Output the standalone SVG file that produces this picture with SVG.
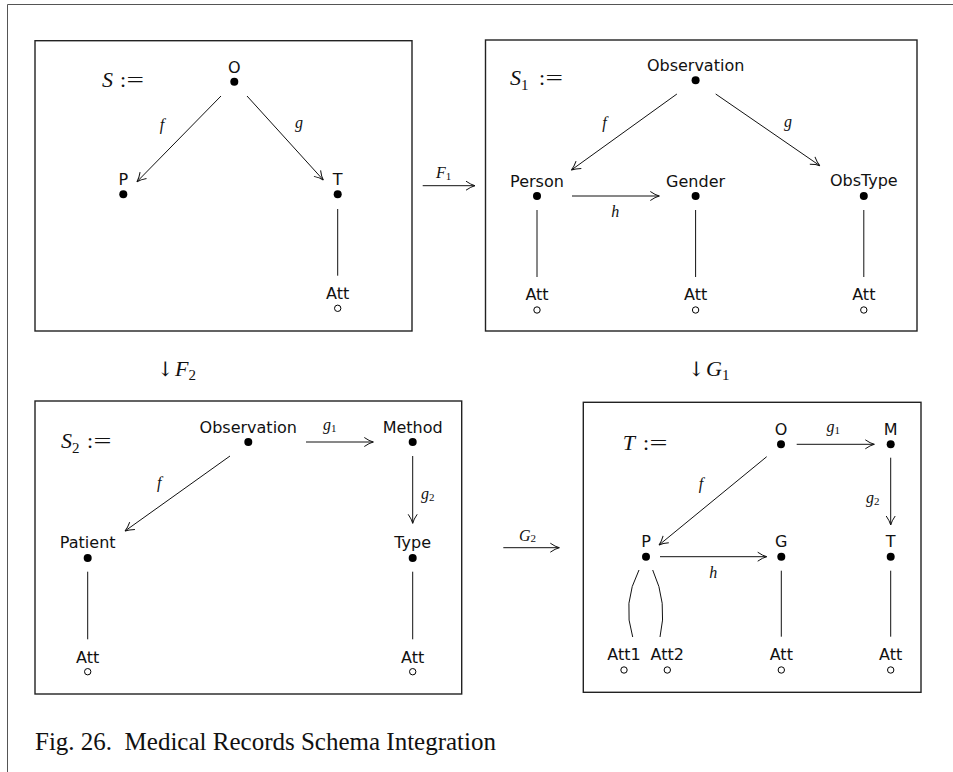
<svg xmlns="http://www.w3.org/2000/svg" width="953" height="772" viewBox="0 0 953 772">
<style>
.frame{stroke:#555;stroke-width:1;fill:none}
.box{fill:none;stroke:#222;stroke-width:1.4}
.lbl{font-family:"DejaVu Sans","Liberation Sans",sans-serif;font-size:16px;text-anchor:middle;fill:#111}
.dot{fill:#000}
.att{fill:#fff;stroke:#000;stroke-width:1}
.edge{stroke:#111;stroke-width:1;fill:none}
.arr{marker-end:url(#ah)}
.m{font-family:"Liberation Serif","Times New Roman",serif;font-style:italic;font-size:16px;fill:#111}
.mc{text-anchor:middle}
.big{font-size:22px}
.up{font-family:"Liberation Serif","Times New Roman",serif;font-style:normal;font-size:22px;fill:#111}
.sub{font-style:normal;font-size:11px}
.subb{font-style:normal;font-size:15px}
.da{font-family:"DejaVu Serif",serif;font-size:20px;fill:#111}
.cap{font-family:"Liberation Serif","Times New Roman",serif;font-size:25px;fill:#111}
</style>
<defs>
<marker id="ah" viewBox="-11 -6 12 12" markerWidth="12" markerHeight="12" refX="0" refY="0" orient="auto" markerUnits="userSpaceOnUse">
<path d="M-9,-4.5 Q-4,-1 0,0 Q-4,1 -9,4.5" fill="none" stroke="#111" stroke-width="1"/>
</marker>
</defs>
<rect width="953" height="772" fill="#fff"/>
<g id="page-frame">
<line class="frame" x1="7.5" y1="4.5" x2="953" y2="4.5"/>
<line class="frame" x1="7.5" y1="4.5" x2="7.5" y2="772"/>
</g>

<!-- Box S -->
<g id="schema-S">
<rect class="box" x="35" y="40.7" width="377" height="290.3"/>
<text class="m big" x="102" y="87">S</text>
<text class="up" x="120" y="87">:</text>
<text class="up" x="126.5" y="87" textLength="17.5" lengthAdjust="spacingAndGlyphs">=</text>
</g>
<g id="S-O"><text class="lbl" x="234.3" y="73">O</text><circle class="dot" cx="234.3" cy="81.7" r="4"/></g>
<g id="S-P"><text class="lbl" x="123.3" y="185">P</text><circle class="dot" cx="123.3" cy="194.3" r="4"/></g>
<g id="S-T"><text class="lbl" x="337.7" y="185">T</text><circle class="dot" cx="337.7" cy="194.3" r="4"/></g>
<g id="S-Att"><text class="lbl" x="337.7" y="299">Att</text><circle class="att" cx="337.7" cy="308.3" r="3.2"/></g>

<!-- Box S1 -->
<g id="schema-S1">
<rect class="box" x="485.5" y="40" width="431.5" height="291"/>
<text class="m big" x="510" y="85">S<tspan class="subb" dy="5">1</tspan></text>
<text class="up" x="539" y="85">:</text>
<text class="up" x="545.5" y="85" textLength="17.5" lengthAdjust="spacingAndGlyphs">=</text>
</g>
<g id="S1-Observation"><text class="lbl" x="695.6" y="71">Observation</text><circle class="dot" cx="695.6" cy="80.3" r="4"/></g>
<g id="S1-Person"><text class="lbl" x="537" y="187">Person</text><circle class="dot" cx="537" cy="196" r="4"/></g>
<g id="S1-Gender"><text class="lbl" x="695.6" y="187">Gender</text><circle class="dot" cx="695.6" cy="196" r="4"/></g>
<g id="S1-ObsType"><text class="lbl" x="863.8" y="186">ObsType</text><circle class="dot" cx="863.8" cy="196" r="4"/></g>
<g id="S1-Att1"><text class="lbl" x="537" y="300">Att</text><circle class="att" cx="537" cy="310" r="3.2"/></g>
<g id="S1-Att2"><text class="lbl" x="695.6" y="300">Att</text><circle class="att" cx="695.6" cy="310" r="3.2"/></g>
<g id="S1-Att3"><text class="lbl" x="863.8" y="300">Att</text><circle class="att" cx="863.8" cy="310" r="3.2"/></g>

<!-- Box S2 -->
<g id="schema-S2">
<rect class="box" x="35" y="401" width="426.7" height="293"/>
<text class="m big" x="61" y="447.7">S<tspan class="subb" dy="5">2</tspan></text>
<text class="up" x="87" y="447.7">:</text>
<text class="up" x="93.5" y="447.7" textLength="18" lengthAdjust="spacingAndGlyphs">=</text>
</g>
<g id="S2-Observation"><text class="lbl" x="248.3" y="432.7">Observation</text><circle class="dot" cx="248.3" cy="442" r="4"/></g>
<g id="S2-Method"><text class="lbl" x="412.7" y="432.7">Method</text><circle class="dot" cx="412.7" cy="442" r="4"/></g>
<g id="S2-Patient"><text class="lbl" x="87.7" y="548.3">Patient</text><circle class="dot" cx="87.7" cy="558" r="4"/></g>
<g id="S2-Type"><text class="lbl" x="412.7" y="548.3">Type</text><circle class="dot" cx="412.7" cy="558" r="4"/></g>
<g id="S2-Att1"><text class="lbl" x="87.7" y="662.7">Att</text><circle class="att" cx="87.7" cy="671.7" r="3.2"/></g>
<g id="S2-Att2"><text class="lbl" x="412.7" y="662.7">Att</text><circle class="att" cx="412.7" cy="671.7" r="3.2"/></g>

<!-- Box T -->
<g id="schema-T">
<rect class="box" x="583.3" y="402.3" width="337.7" height="290"/>
<text class="m big" x="622.7" y="450">T</text>
<text class="up" x="643" y="450">:</text>
<text class="up" x="649.5" y="450" textLength="18" lengthAdjust="spacingAndGlyphs">=</text>
</g>
<g id="T-O"><text class="lbl" x="781" y="435">O</text><circle class="dot" cx="781" cy="444.3" r="4"/></g>
<g id="T-M"><text class="lbl" x="890.7" y="435">M</text><circle class="dot" cx="890.7" cy="444.3" r="4"/></g>
<g id="T-P"><text class="lbl" x="646" y="546.7">P</text><circle class="dot" cx="646" cy="556.7" r="4"/></g>
<g id="T-G"><text class="lbl" x="781.3" y="546.7">G</text><circle class="dot" cx="781.3" cy="556.7" r="4"/></g>
<g id="T-T"><text class="lbl" x="890.7" y="546.7">T</text><circle class="dot" cx="890.7" cy="556.7" r="4"/></g>
<g id="T-Att1"><text class="lbl" x="624" y="660">Att1</text><circle class="att" cx="624" cy="670" r="3.2"/></g>
<g id="T-Att2"><text class="lbl" x="667.3" y="660">Att2</text><circle class="att" cx="667.3" cy="670" r="3.2"/></g>
<g id="T-Att3"><text class="lbl" x="781.3" y="660">Att</text><circle class="att" cx="781.3" cy="670" r="3.2"/></g>
<g id="T-Att4"><text class="lbl" x="890.7" y="660">Att</text><circle class="att" cx="890.7" cy="670" r="3.2"/></g>

<g id="connectors">
<!-- S -->
<line class="edge arr" x1="221" y1="96" x2="137" y2="181.7"/>
<line class="edge arr" x1="247" y1="96" x2="323.3" y2="180"/>
<line class="edge" x1="337.7" y1="209" x2="337.7" y2="275.7"/>
<text class="m mc" x="162" y="130">f</text>
<text class="m mc" x="299" y="128">g</text>
<!-- S1 -->
<line class="edge arr" x1="676.9" y1="94" x2="571.4" y2="170"/>
<line class="edge arr" x1="715.7" y1="94" x2="819.8" y2="165.7"/>
<line class="edge arr" x1="572" y1="196" x2="659.3" y2="196"/>
<line class="edge" x1="537" y1="210" x2="537" y2="277"/>
<line class="edge" x1="695.6" y1="210" x2="695.6" y2="277"/>
<line class="edge" x1="863.8" y1="210" x2="863.8" y2="277"/>
<text class="m mc" x="604.6" y="128">f</text>
<text class="m mc" x="788" y="127">g</text>
<text class="m mc" x="615.2" y="216.5">h</text>
<!-- S2 -->
<line class="edge arr" x1="306" y1="442" x2="373.3" y2="442"/>
<line class="edge arr" x1="412.7" y1="456" x2="412.7" y2="523.3"/>
<line class="edge arr" x1="230" y1="456" x2="125" y2="531"/>
<line class="edge" x1="87.7" y1="571.7" x2="87.7" y2="639.3"/>
<line class="edge" x1="412.7" y1="571.7" x2="412.7" y2="639.3"/>
<text class="m" x="323" y="430">g<tspan class="sub" dy="2">1</tspan></text>
<text class="m" x="421" y="499">g<tspan class="sub" dy="2">2</tspan></text>
<text class="m mc" x="159.3" y="488">f</text>
<!-- T -->
<line class="edge arr" x1="796.7" y1="444.3" x2="874.3" y2="444.3"/>
<line class="edge arr" x1="890.7" y1="457.7" x2="890.7" y2="525"/>
<line class="edge arr" x1="766.7" y1="456.7" x2="659" y2="545"/>
<line class="edge arr" x1="660" y1="556.7" x2="766.7" y2="556.7"/>
<path class="edge" d="M639,570 Q622,603 632.7,637"/>
<path class="edge" d="M652.7,570 Q668,603 660,637"/>
<line class="edge" x1="781.3" y1="570.7" x2="781.3" y2="636.7"/>
<line class="edge" x1="890.7" y1="570.7" x2="890.7" y2="636.7"/>
<text class="m" x="826.5" y="432">g<tspan class="sub" dy="2">1</tspan></text>
<text class="m" x="866" y="503">g<tspan class="sub" dy="2">2</tspan></text>
<text class="m mc" x="701" y="489">f</text>
<text class="m mc" x="713.3" y="577.5">h</text>
<!-- morphisms between schemas -->
<line class="edge arr" x1="422.7" y1="185.7" x2="475" y2="185.7"/>
<text class="m" x="436" y="178" font-size="14">F<tspan class="sub" font-size="10" dy="1.5">1</tspan></text>
<line class="edge arr" x1="503.3" y1="547.7" x2="559.3" y2="547.7"/>
<text class="m" x="519" y="540.7" font-size="15">G<tspan class="sub" font-size="10" dy="1.5">2</tspan></text>
<text class="da" x="157" y="376">↓</text>
<text class="m big" x="175" y="376">F<tspan class="subb" dy="4">2</tspan></text>
<text class="da" x="688" y="376">↓</text>
<text class="m big" x="706" y="376">G<tspan class="subb" dy="4">1</tspan></text>
</g>

<text class="cap" x="35" y="750" xml:space="preserve">Fig. 26.  Medical Records Schema Integration</text>
</svg>
